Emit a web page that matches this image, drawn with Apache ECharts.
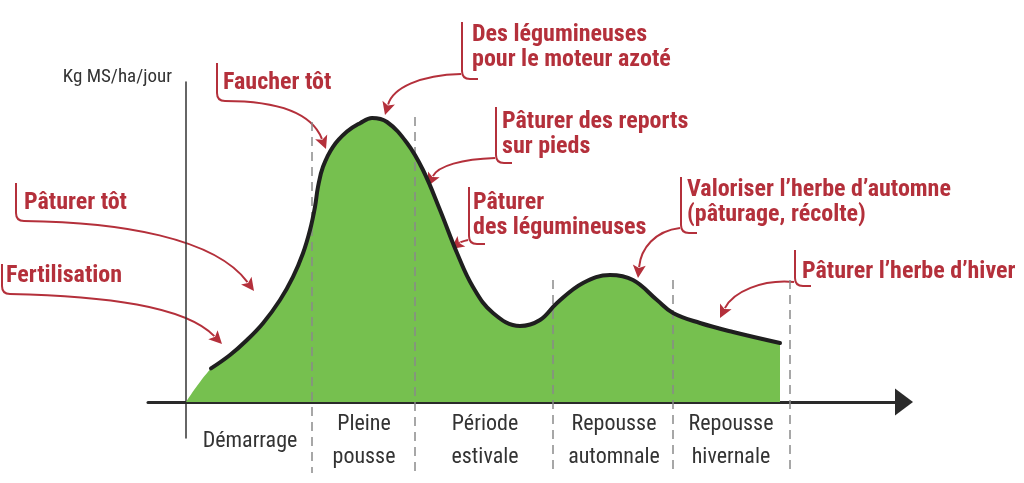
<!DOCTYPE html>
<html>
<head>
<meta charset="UTF-8">
<title></title>
<script src="https://cdn.jsdelivr.net/npm/echarts@6/dist/echarts.min.js"></script>
<style>
html, body {margin: 0; padding: 0; background: #fff;}
#main {width: 1024px; height: 483px;}
</style>
</head>
<body>
<div id="main"></div>
<script>
// courbe de pousse de l'herbe (unités arbitraires)
var curveX = [0, 2.5, 4.4, 6.1, 7.7, 9.4, 10.7, 11.7, 12.4, 12.9, 13.2, 13.7, 14.7, 16.1, 17.4, 18.6, 20.1, 22.1, 23.7, 25.4, 27.1, 28.7, 30.7, 33.4, 35.4, 37.1, 39.7, 42.4, 44.7, 47.1, 48.7, 51.4, 54.7, 59.4];
var curveY = [0, 8.4, 11.75, 15.5, 19.7, 25.5, 31.3, 37.2, 43, 48.8, 53.8, 58.8, 63.8, 67.6, 69.7, 71, 70, 64.75, 58, 48, 37.25, 28.75, 22.25, 19, 20.5, 24.75, 29.75, 31.75, 30.5, 25.5, 22.25, 19.75, 17.5, 14.75];
// périodes
var periodNames = ['Démarrage', 'Pleine\npousse', 'Période\nestivale', 'Repousse\nautomnale', 'Repousse\nhivernale'];
var periodCenters = [6.4, 17.8, 29.9, 42.8, 54.5];
var dividerX = [12.6, 22.9, 36.7, 48.7, 60.4];
var dividerTop = [70, 71.25, 30.5, 30.5, 30.5];
var dividerBottom = -17.75;

var RED = '#b4303b';
var NARROW = '"Roboto Condensed", "Noto Sans Condensed", "DejaVu Sans Condensed", sans-serif';

// annotations (position en pixels)
var notes = [
	{lines: ['Fertilisation'], tx: 6, ty: 276, bx: 2, top: 264, bottom: 294, dir: 'right', c1: [105, 296], c2: [185, 306], tip: [222, 344]},
	{lines: ['Pâturer tôt'], tx: 24, ty: 203, bx: 16, top: 183, bottom: 221, dir: 'right', c1: [120, 222], c2: [215, 238], tip: [254, 291]},
	{lines: ['Faucher tôt'], tx: 223, ty: 83, bx: 217, top: 63, bottom: 101, dir: 'right', c1: [280, 101], c2: [312, 114], tip: [326, 149]},
	{lines: ['Des légumineuses', 'pour le moteur azoté'], tx: 472, ty: 47, bx: 462, top: 22, bottom: 79, dir: 'left', from: [461, 74], c1: [420, 75], c2: [393, 88], tip: [385, 115]},
	{lines: ['Pâturer des reports', 'sur pieds'], tx: 502, ty: 134, bx: 496, top: 107, bottom: 163, dir: 'left', from: [495, 158], c1: [462, 159], c2: [438, 166], tip: [428, 186]},
	{lines: ['Pâturer', 'des légumineuses'], tx: 473, ty: 215, bx: 469, top: 187, bottom: 244, dir: 'left', from: [468, 240], c1: [463, 241], c2: [459, 243], tip: [451, 249]},
	{lines: ['Valoriser l\u2019herbe d\u2019automne', '(pâturage, récolte)'], tx: 687, ty: 202, bx: 681, top: 177, bottom: 233, dir: 'left', from: [680, 228], c1: [655, 231], c2: [641, 248], tip: [638, 278]},
	{lines: ['Pâturer l\u2019herbe d\u2019hiver'], tx: 802, ty: 272, bx: 795, top: 250, bottom: 286, dir: 'left', from: [794, 282], c1: [762, 279], c2: [733, 292], tip: [720, 318]}
];

function buildNotes() {
	var els = [];
	var st = {stroke: RED, lineWidth: 2, fill: null};
	notes.forEach(function (n) {
		els.push({type: 'text', silent: true, style: {
			text: n.lines.join('\n'), x: n.tx, y: n.ty, align: 'left', verticalAlign: 'middle',
			fill: RED, fontWeight: 'bold', fontSize: 24, fontFamily: NARROW, lineHeight: 25
		}});
		//crochet
		els.push({type: 'polyline', silent: true, shape: {points: [[n.bx, n.top], [n.bx, n.bottom - 8]]}, style: st});
		els.push({type: 'bezierCurve', silent: true, shape: {x1: n.bx, y1: n.bottom - 8, cpx1: n.bx, cpy1: n.bottom, x2: n.bx + 8, y2: n.bottom}, style: st});
		var from = n.from;
		if (n.dir === 'left') {
			els.push({type: 'line', silent: true, shape: {x1: n.bx + 8, y1: n.bottom, x2: n.bx + 16, y2: n.bottom}, style: st});
		} else {
			from = [n.bx + 8, n.bottom];
		}
		//flèche
		var dx = n.tip[0] - n.c2[0], dy = n.tip[1] - n.c2[1];
		var len = Math.sqrt(dx * dx + dy * dy);
		dx /= len; dy /= len;
		var L = 13, W = 6.5;
		var bx = n.tip[0] - dx * L, by = n.tip[1] - dy * L;
		els.push({type: 'bezierCurve', silent: true, shape: {
			x1: from[0], y1: from[1], cpx1: n.c1[0], cpy1: n.c1[1], cpx2: n.c2[0], cpy2: n.c2[1], x2: bx + dx * 2, y2: by + dy * 2
		}, style: st});
		els.push({type: 'polygon', silent: true, shape: {points: [n.tip, [bx - dy * W, by + dx * W], [bx + dx * 3, by + dy * 3], [bx + dy * W, by - dx * W]]}, style: {fill: RED}});
	});
	return els;
}

var curveData = [];
for (var i = 0; i < curveX.length; i++) {
	curveData.push([curveX[i], curveY[i]]);
}

var series = [
	{
		name: 'pousse', type: 'line', xAxisIndex: 0, yAxisIndex: 0,
		data: curveData, smooth: 0.4, symbol: 'none', silent: true,
		lineStyle: {width: 0, opacity: 0},
		areaStyle: {color: '#76c04f', opacity: 1}, z: 1
	},
	{
		name: 'courbe', type: 'line', xAxisIndex: 0, yAxisIndex: 0,
		data: curveData.slice(1), smooth: 0.4, symbol: 'none', silent: true,
		lineStyle: {width: 4, color: '#1f1f1f', cap: 'round'}, z: 4
	}
];
for (var k = 0; k < dividerX.length; k++) {
	series.push({
		type: 'line', xAxisIndex: 1, yAxisIndex: 1, symbol: 'none', silent: true, z: 3,
		data: [[dividerX[k], dividerTop[k]], [dividerX[k], dividerBottom]],
		lineStyle: {type: [9, 6], color: '#8a8a8a', width: 1.5}
	});
}

var myChart = echarts.init(document.getElementById('main'));
var option = {
	animation: false,
	backgroundColor: '#fff',
	grid: [
		{left: 148, right: 120, top: 82, bottom: 45, containLabel: false, outerBoundsMode: 'none'},
		{left: 148, right: 120, top: 82, bottom: 9, containLabel: false, outerBoundsMode: 'none'}
	],
	xAxis: [
		{
			type: 'value', gridIndex: 0, min: -3.8, max: 71.8,
			axisLine: {show: true, onZero: true, symbol: ['none', 'triangle'], symbolSize: [27, 18], lineStyle: {color: '#2a2a2a', width: 3}},
			axisTick: {show: false},
			splitLine: {show: false},
			axisLabel: {
				customValues: periodCenters,
				formatter: function (v) {
					var best = 0;
					for (var i = 0; i < periodCenters.length; i++) {
						if (Math.abs(periodCenters[i] - v) < Math.abs(periodCenters[best] - v)) best = i;
					}
					return periodNames[best];
				},
				color: '#333', fontSize: 22, fontFamily: NARROW, lineHeight: 33,
				verticalAlign: 'middle', margin: 3, hideOverlap: false
			}
		},
		{type: 'value', gridIndex: 1, min: -3.8, max: 71.8, show: false}
	],
	yAxis: [
		{
			type: 'value', gridIndex: 0, min: -9, max: 80,
			name: 'Kg MS/ha/jour', nameLocation: 'end', nameGap: 5,
			nameTextStyle: {color: '#333', fontSize: 19, fontFamily: NARROW, align: 'right', verticalAlign: 'middle', padding: [0, 14, 0, 0]},
			axisLine: {show: true, onZero: true, lineStyle: {color: '#333', width: 1.5}},
			axisTick: {show: false}, axisLabel: {show: false}, splitLine: {show: false}
		},
		{type: 'value', gridIndex: 1, min: -18, max: 80, show: false}
	],
	series: series,
	graphic: buildNotes()
};
myChart.setOption(option);
</script>
</body>
</html>
